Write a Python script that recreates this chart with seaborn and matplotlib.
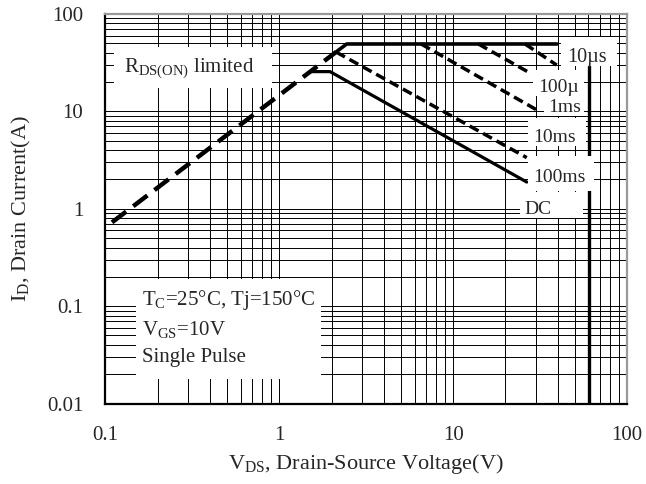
import numpy as np
import pandas as pd
import seaborn as sns
import matplotlib.pyplot as plt
from matplotlib.patches import Rectangle
from matplotlib.ticker import LogLocator, NullFormatter

# --- SOA curve data (V in volts, I in amps) ---
rds_v = [0.109, 2.12]
rds_i = [0.725, 40.7]

us10_v = [2.12, 2.44, 39.6]
us10_i = [40.7, 49.2, 49.2]

us100_v = [25.9, 39.4]
us100_i = [49.2, 29.9]

ms1_v = [13.96, 27.3]
ms1_i = [49.2, 25.1]

ms10_v = [6.54, 31.0]
ms10_i = [49.2, 10.1]

ms100_v = [2.12, 26.5]
ms100_i = [40.7, 3.35]

dc_v = [1.536, 1.957, 26.5]
dc_i = [25.6, 25.6, 1.88]

bv_v = [60.8, 60.8]
bv_i = [29.4, 0.01]

x_ticks = [0.1, 1, 10, 100]
x_labels = ['0.1', '1', '10', '100']
y_ticks = [0.01, 0.1, 1, 10, 100]
y_labels = ['0.01', '0.1', '1', '10', '100']

# --- style ---
sns.set_style("white")
plt.rcParams['font.family'] = ['Liberation Serif', 'DejaVu Serif']
plt.rcParams['mathtext.fontset'] = 'custom'
plt.rcParams['mathtext.rm'] = 'Liberation Serif'
plt.rcParams['mathtext.default'] = 'regular'

fig = plt.figure(figsize=(6.46, 4.84), dpi=100)
ax = fig.add_axes([0.1633, 0.1663, 0.8073, 0.8048])
ax.set_xscale('log')
ax.set_yscale('log')

fine_dash = (0, (2.9, 1.5))
curves = [
    (rds_v, rds_i, 3.2, (0, (4, 2))),
    (us10_v, us10_i, 2.6, '-'),
    (us100_v, us100_i, 2.5, fine_dash),
    (ms1_v, ms1_i, 2.5, fine_dash),
    (ms10_v, ms10_i, 2.5, fine_dash),
    (ms100_v, ms100_i, 2.5, fine_dash),
    (dc_v, dc_i, 2.3, '-'),
    (bv_v, bv_i, 2.4, '-'),
]
for v, i, lw, ls in curves:
    df = pd.DataFrame({'vds': v, 'id': i})
    sns.lineplot(data=df, x='vds', y='id', ax=ax, color='black', lw=lw,
                 linestyle=ls, sort=False, estimator=None, legend=False)

ax.set_xlim(0.1, 100)
ax.set_ylim(0.01, 100)
ax.set_xticks(x_ticks, x_labels)
ax.set_yticks(y_ticks, y_labels)
for axis in (ax.xaxis, ax.yaxis):
    axis.set_minor_locator(LogLocator(10, subs=np.arange(2, 10), numticks=20))
    axis.set_minor_formatter(NullFormatter())
ax.tick_params(which='both', length=0, labelsize=15, pad=16)
ax.grid(True, which='both', color='black', lw=0.7)
ax.set_axisbelow(True)

for side in ('left', 'bottom'):
    ax.spines[side].set_color('black')
    ax.spines[side].set_linewidth(1.6)
for side in ('top', 'right'):
    ax.spines[side].set_color('#999999')
    ax.spines[side].set_linewidth(1.6)

ax.set_xlabel('V$_{DS}$, Drain-Source Voltage(V)', fontsize=16, labelpad=5)
ax.set_ylabel('I$_D$, Drain Current(A)', fontsize=16, labelpad=10)


# --- white label boxes (pixel positions of the reference) ---
def frac(x, y):
    return (x - 105.5) / 521.5, (403.5 - y) / 389.5


boxes = [
    (114, 46.6, 272.4, 88), (136, 279, 320.7, 379), (561, 37, 617, 66),
    (533, 70, 584, 96), (544, 96, 584, 116), (528, 118, 586, 146),
    (528, 156, 594, 191), (519.5, 192, 583, 218.5),
]
for x0, y0, x1, y1 in boxes:
    fx0, fy1 = frac(x0, y0)
    fx1, fy0 = frac(x1, y1)
    ax.add_patch(Rectangle((fx0, fy0), fx1 - fx0, fy1 - fy0, transform=ax.transAxes,
                           facecolor='white', edgecolor='none', zorder=3))

labels = [
    ('R$_{DS(ON)}$ limited', 124, 72, 15),
    ('T$_C$=25°C, Tj=150°C', 142, 305, 15),
    ('V$_{GS}$=10V', 142, 334.5, 15),
    ('Single Pulse', 142, 362, 15),
    ('10µs', 567, 62, 14.5),
    ('100µ', 538, 92, 14),
    ('1ms', 548, 112, 14),
    ('10ms', 533, 142, 14),
    ('100ms', 533, 182, 14),
    ('DC', 524.6, 214, 14),
]
for txt, x, y, fs in labels:
    fx, fy = frac(x, y)
    ax.text(fx, fy, txt, transform=ax.transAxes, ha='left', va='baseline',
            fontsize=fs, zorder=4)

fig.savefig('out.png', dpi=100)
